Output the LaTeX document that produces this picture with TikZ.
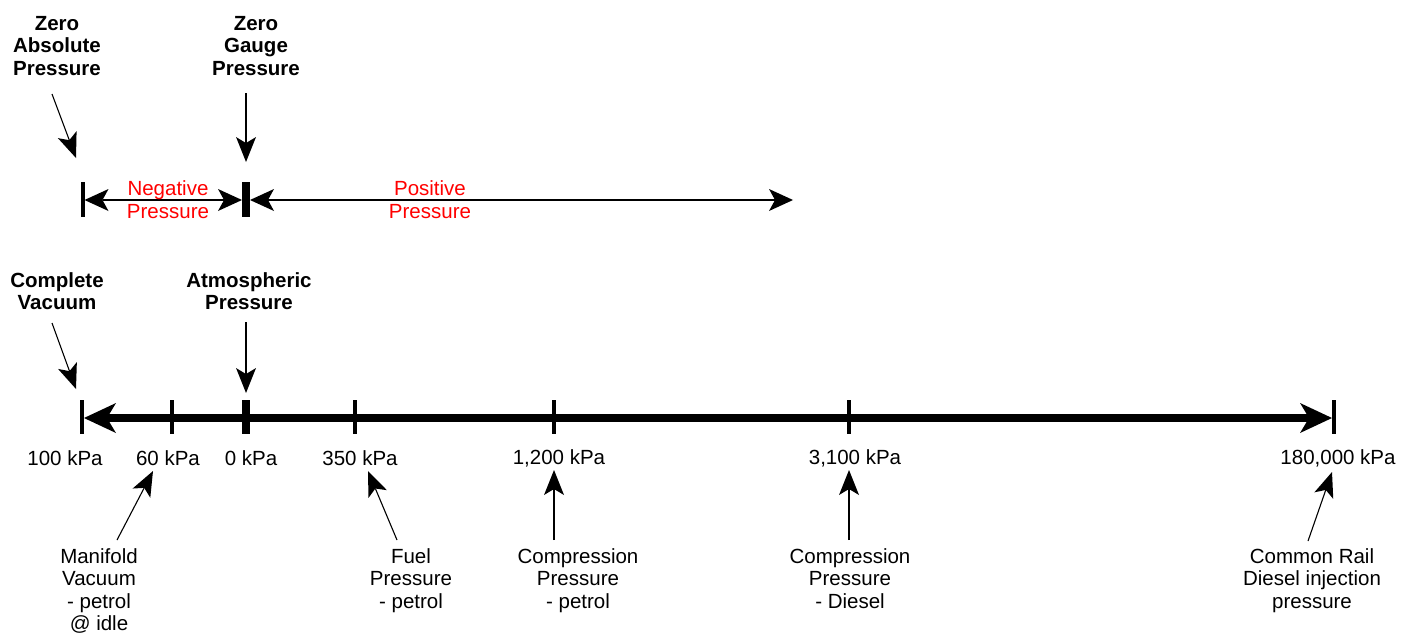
\documentclass[tikz,border=0pt]{standalone}
\usepackage{fontspec}
\setmainfont{Liberation Sans}
\usetikzlibrary{arrows.meta}
\begin{document}
\begin{tikzpicture}[x=1pt,y=-1pt,
  lbl/.style={inner sep=0pt, align=center, font=\fontsize{20.5}{22.5}\selectfont},
  blbl/.style={lbl, font=\fontsize{20.5}{22.5}\selectfont\bfseries},
  rlbl/.style={lbl, text=red},
  ptr/.style={line width=1.1pt, -{Stealth[length=25pt,width=20pt,inset=6pt,line width=0pt]}},
  dbl/.style={line width=1.1pt, {Stealth[length=24pt,width=22pt,inset=6pt,line width=0pt]}-{Stealth[length=24pt,width=22pt,inset=6pt,line width=0pt]}},
  axis/.style={line width=8pt, {Stealth[length=32pt,width=30pt,inset=9pt,line width=0pt]}-{Stealth[length=32pt,width=30pt,inset=9pt,line width=0pt]}},
  tick/.style={line width=3.5pt},
  btick/.style={line width=8pt}
]
\useasboundingbox (0,0) rectangle (1415,635);

% ---------- top scale ----------
\node[blbl] (zabs) at (57,46) {Zero\\Absolute\\Pressure};
\node[blbl] (zgauge) at (256,46) {Zero\\Gauge\\Pressure};
\coordinate (zabsT) at (52,94);
\coordinate (zabsH) at (76,158);
\coordinate (zgT) at (246,93);
\coordinate (zgH) at (246,162);
\draw[ptr] (zabsT) -- (zabsH);
\draw[ptr] (zgT) -- (zgH);

\coordinate (t0a) at (83,182); \coordinate (t0b) at (83,217);
\coordinate (t1a) at (246,182); \coordinate (t1b) at (246,217);
\draw[tick] (t0a) -- (t0b);
\draw[btick] (t1a) -- (t1b);
\coordinate (negL) at (84.5,200);
\coordinate (negR) at (242,200);
\coordinate (posL) at (250,200);
\coordinate (posR) at (793,200);
\draw[dbl] (negL) -- (negR);
\draw[dbl] (posL) -- (posR);
\node[rlbl] (neg) at (168,199.5) {Negative\\Pressure};
\node[rlbl] (pos) at (430,199.5) {Positive\\Pressure};

% ---------- main scale ----------
\node[blbl] (cvac) at (57,291) {Complete\\Vacuum};
\node[blbl] (atm) at (249,291) {Atmospheric\\Pressure};
\coordinate (cvT) at (52,323);
\coordinate (cvH) at (76,389);
\coordinate (atT) at (246,322);
\coordinate (atH) at (246,393);
\draw[ptr] (cvT) -- (cvH);
\draw[ptr] (atT) -- (atH);

\coordinate (axL) at (84,418);
\coordinate (axR) at (1332,418);
\draw[axis] (axL) -- (axR);

\foreach \n/\x in {p100/82, p60/172, p350/355, p1200/554, p3100/849, p180k/1334}{
  \coordinate (\n) at (\x,418);
  \draw[tick] (\x,400) -- (\x,434);
}
\coordinate (p0) at (246,418);
\draw[btick] (246,400) -- (246,434);

\node[lbl] (l100) at (65,458) {100 kPa};
\node[lbl] (l60) at (168,458) {60 kPa};
\node[lbl] (l0) at (251,458) {0 kPa};
\node[lbl] (l350) at (360,458) {350 kPa};
\node[lbl] (l1200) at (559,458) {1,200 kPa};
\node[lbl] (l3100) at (855,458) {3,100 kPa};
\node[lbl] (l180k) at (1338,458) {180,000 kPa};

% ---------- bottom labels ----------
\node[lbl, anchor=north] (man) at (99,548) {Manifold\\Vacuum\\- petrol\\@ idle};
\node[lbl, anchor=north] (fuel) at (411,548) {Fuel\\Pressure\\- petrol};
\node[lbl, anchor=north] (cpp) at (578,548) {Compression\\Pressure\\- petrol};
\node[lbl, anchor=north] (cpd) at (850,548) {Compression\\Pressure\\- Diesel};
\node[lbl, anchor=north] (crd) at (1312,548) {Common Rail\\Diesel injection\\pressure};

\coordinate (manT) at (117,540); \coordinate (manH) at (153,471);
\coordinate (fuelT) at (397,540); \coordinate (fuelH) at (368,471);
\coordinate (cppT) at (554,540); \coordinate (cppH) at (554,470);
\coordinate (cpdT) at (849,540); \coordinate (cpdH) at (849,470);
\coordinate (crdT) at (1308,541); \coordinate (crdH) at (1332,472);
\draw[ptr] (manT) -- (manH);
\draw[ptr] (fuelT) -- (fuelH);
\draw[ptr] (cppT) -- (cppH);
\draw[ptr] (cpdT) -- (cpdH);
\draw[ptr] (crdT) -- (crdH);
\end{tikzpicture}
\end{document}
